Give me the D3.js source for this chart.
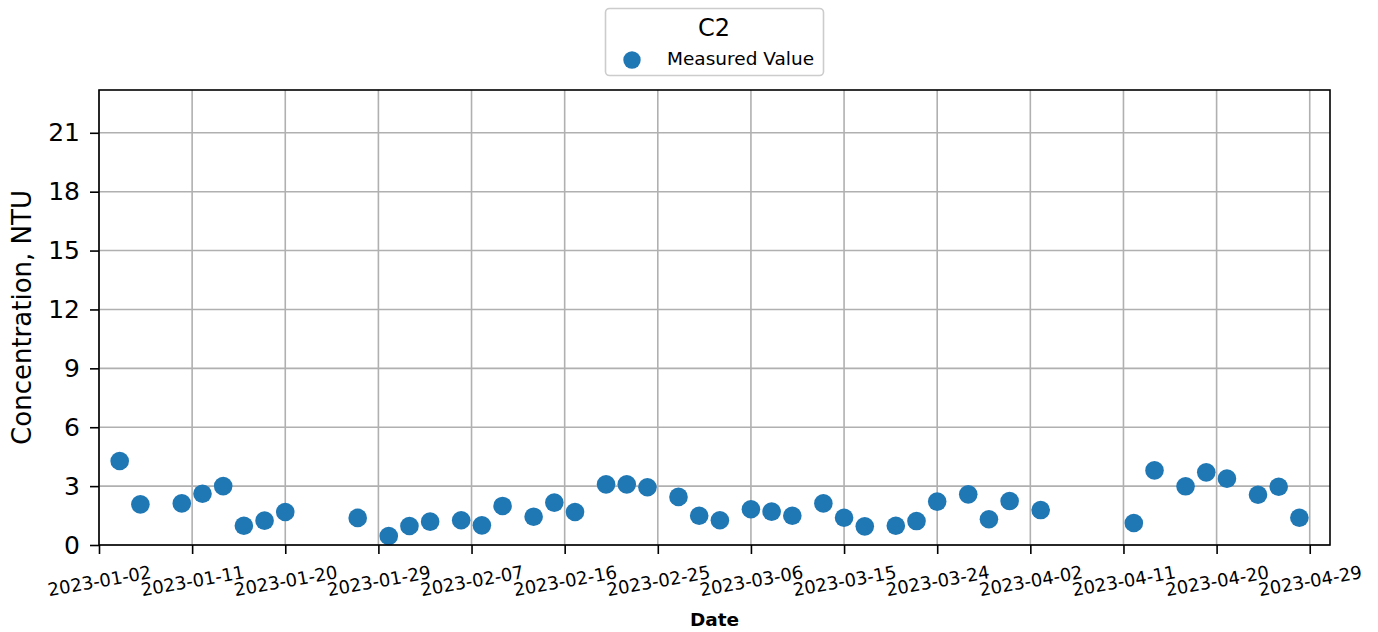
<!DOCTYPE html>
<html>
<head>
<meta charset="utf-8">
<script src="https://cdn.jsdelivr.net/npm/d3@7"></script>
<style>
  body { margin: 0; background: #fff; }
  text { font-family: "DejaVu Sans", sans-serif; }
</style>
</head>
<body>
<div id="chart"></div>
<script>
// measured dates and values
const dates = [
  "2023-01-04", "2023-01-06", "2023-01-10", "2023-01-12", "2023-01-14", "2023-01-16",
  "2023-01-18", "2023-01-20", "2023-01-27", "2023-01-30", "2023-02-01", "2023-02-03",
  "2023-02-06", "2023-02-08", "2023-02-10", "2023-02-13", "2023-02-15", "2023-02-17",
  "2023-02-20", "2023-02-22", "2023-02-24", "2023-02-27", "2023-03-01", "2023-03-03",
  "2023-03-06", "2023-03-08", "2023-03-10", "2023-03-13", "2023-03-15", "2023-03-17",
  "2023-03-20", "2023-03-22", "2023-03-24", "2023-03-27", "2023-03-29", "2023-03-31",
  "2023-04-03", "2023-04-12", "2023-04-14", "2023-04-17", "2023-04-19", "2023-04-21",
  "2023-04-24", "2023-04-26", "2023-04-28"
];
const values = [
  4.28, 2.07, 2.12, 2.61, 3.00, 0.98,
  1.24, 1.68, 1.38, 0.46, 0.97, 1.19,
  1.26, 1.00, 1.99, 1.44, 2.16, 1.68,
  3.09, 3.09, 2.94, 2.45, 1.49, 1.26,
  1.82, 1.70, 1.49, 2.12, 1.39, 0.95,
  0.98, 1.22, 2.21, 2.58, 1.31, 2.24,
  1.78, 1.12, 3.80, 2.99, 3.70, 3.38,
  2.56, 2.97, 1.39
];
// tick labels
const x_ticks = [
  "2023-01-02", "2023-01-11", "2023-01-20", "2023-01-29", "2023-02-07", "2023-02-16",
  "2023-02-25", "2023-03-06", "2023-03-15", "2023-03-24", "2023-04-02", "2023-04-11",
  "2023-04-20", "2023-04-29"
];
const y_ticks = [0, 3, 6, 9, 12, 15, 18, 21];
const x_domain = ["2023-01-02T00:00:00Z", "2023-04-30T23:00:00Z"];
const y_max = 23.18;

// Set margins and dimensions
const width = 1378;
const height = 632;
const margin = { top: 90, right: 48, bottom: 87, left: 99 };

const svg = d3.select("#chart")
  .append("svg")
  .attr("width", width)
  .attr("height", height);

const parse = d3.utcParse("%Y-%m-%d");

// scales
const x = d3.scaleUtc()
  .domain(x_domain.map(d => new Date(d)))
  .range([margin.left, width - margin.right]);

const y = d3.scaleLinear()
  .domain([0, y_max])
  .range([height - margin.bottom, margin.top]);

const plot_bottom = height - margin.bottom;
const plot_right = width - margin.right;

// -------------------------< grid >--------------------------
svg.append("g")
  .selectAll("line")
  .data(x_ticks)
  .enter()
  .append("line")
  .attr("x1", d => x(parse(d)))
  .attr("x2", d => x(parse(d)))
  .attr("y1", margin.top)
  .attr("y2", plot_bottom)
  .attr("stroke", "#b0b0b0")
  .attr("stroke-width", 1.6);

svg.append("g")
  .selectAll("line")
  .data(y_ticks)
  .enter()
  .append("line")
  .attr("x1", margin.left)
  .attr("x2", plot_right)
  .attr("y1", d => y(d))
  .attr("y2", d => y(d))
  .attr("stroke", "#b0b0b0")
  .attr("stroke-width", 1.6);

// -------------------------< points >--------------------------
svg.append("g")
  .selectAll("circle")
  .data(dates)
  .enter()
  .append("circle")
  .attr("cx", d => x(parse(d)))
  .attr("cy", (d, i) => y(values[i]))
  .attr("r", 9.3)
  .attr("fill", "#1f77b4");

// -------------------------< axes >--------------------------
const x_axis = svg.append("g")
  .attr("transform", `translate(0,${plot_bottom})`)
  .call(d3.axisBottom(x)
    .tickValues(x_ticks.map(parse))
    .tickSize(9)
    .tickFormat(d3.utcFormat("%Y-%m-%d")));
x_axis.select(".domain").remove();
x_axis.selectAll("line").attr("stroke", "#000").attr("stroke-width", 1.6);
x_axis.selectAll("text")
  .attr("font-size", "18px")
  .attr("fill", "#000")
  .attr("y", 0)
  .attr("dy", "0.35em")
  .attr("transform", "translate(0,36) rotate(-10)");

const y_axis = svg.append("g")
  .attr("transform", `translate(${margin.left},0)`)
  .call(d3.axisLeft(y)
    .tickValues(y_ticks)
    .tickSize(9)
    .tickPadding(10));
y_axis.select(".domain").remove();
y_axis.selectAll("line").attr("stroke", "#000").attr("stroke-width", 1.6);
y_axis.selectAll("text")
  .attr("font-size", "25px")
  .attr("fill", "#000");

// frame
svg.append("rect")
  .attr("x", margin.left)
  .attr("y", margin.top)
  .attr("width", plot_right - margin.left)
  .attr("height", plot_bottom - margin.top)
  .attr("fill", "none")
  .attr("stroke", "#000")
  .attr("stroke-width", 1.6);

// axis labels
svg.append("text")
  .attr("x", (margin.left + plot_right) / 2)
  .attr("y", 626)
  .attr("text-anchor", "middle")
  .attr("font-size", "18.5px")
  .attr("font-weight", "bold")
  .text("Date");

svg.append("text")
  .attr("transform", `translate(22,${(margin.top + plot_bottom) / 2}) rotate(-90)`)
  .attr("text-anchor", "middle")
  .attr("dy", "0.35em")
  .attr("font-size", "26px")
  .text("Concentration, NTU");

// -------------------------< legend >--------------------------
const legend = svg.append("g");
legend.append("rect")
  .attr("x", 605.5)
  .attr("y", 8.5)
  .attr("width", 218)
  .attr("height", 67)
  .attr("rx", 4)
  .attr("fill", "#fff")
  .attr("stroke", "#cccccc")
  .attr("stroke-width", 1.6);
legend.append("text")
  .attr("x", 714)
  .attr("y", 28)
  .attr("dy", "0.35em")
  .attr("text-anchor", "middle")
  .attr("font-size", "24px")
  .text("C2");
legend.append("circle")
  .attr("cx", 632)
  .attr("cy", 60)
  .attr("r", 8.7)
  .attr("fill", "#1f77b4");
legend.append("text")
  .attr("x", 667)
  .attr("y", 59)
  .attr("dy", "0.35em")
  .attr("font-size", "18.5px")
  .text("Measured Value");
</script>
</body>
</html>
